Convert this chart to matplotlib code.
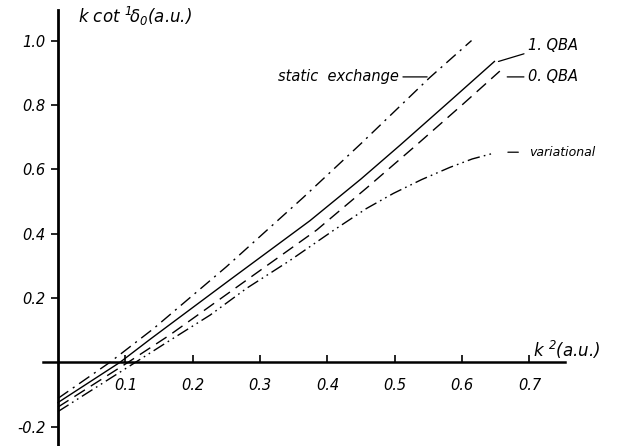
import numpy as np
import matplotlib
matplotlib.use("Agg")
import matplotlib.pyplot as plt

plt.rcParams['font.family'] = ['DejaVu Sans']
plt.rcParams['mathtext.fontset'] = 'custom'
plt.rcParams['mathtext.it'] = 'DejaVu Sans:italic'
plt.rcParams['mathtext.rm'] = 'DejaVu Sans:italic'

# --- data ---
static_x = [0.0, 0.077, 0.142, 0.25, 0.364, 0.45, 0.552, 0.614]
static_y = [-0.112, 0.0, 0.105, 0.297, 0.512, 0.68, 0.885, 1.0]

qba1_x = [0.0, 0.092, 0.137, 0.255, 0.374, 0.45, 0.508, 0.582, 0.648]
qba1_y = [-0.125, 0.0, 0.072, 0.256, 0.44, 0.57, 0.675, 0.812, 0.935]

qba0_x = [0.0, 0.104, 0.166, 0.285, 0.384, 0.46, 0.532, 0.6, 0.656]
qba0_y = [-0.139, 0.0, 0.085, 0.263, 0.411, 0.545, 0.675, 0.8, 0.905]

var_x = [0.0, 0.115, 0.16, 0.226, 0.28, 0.344, 0.409, 0.458, 0.498,
         0.54, 0.582, 0.615, 0.647]
var_y = [-0.153, 0.0, 0.06, 0.147, 0.23, 0.316, 0.41, 0.478, 0.525,
         0.568, 0.606, 0.632, 0.65]

xticks = [0.1, 0.2, 0.3, 0.4, 0.5, 0.6, 0.7]
xticklabels = ["0.1", "0.2", "0.3", "0.4", "0.5", "0.6", "0.7"]
yticks = [-0.2, 0.2, 0.4, 0.6, 0.8, 1.0]
yticklabels = ["-0.2", "0.2", "0.4", "0.6", "0.8", "1.0"]

fig = plt.figure(figsize=(6.17, 4.46), dpi=100)
ax = fig.add_axes([0, 0, 1, 1])
ax.set_xlim(-0.0861, 0.830)
ax.set_ylim(-0.260, 1.126)
ax.patch.set_alpha(0)

lw = 1.0
ax.plot(static_x, static_y, color='black', lw=lw, dashes=[9, 4, 1.5, 4])
ax.plot(qba1_x, qba1_y, color='black', lw=lw)
ax.plot(qba0_x, qba0_y, color='black', lw=lw, dashes=[9, 5])
ax.plot(var_x, var_y, color='black', lw=lw, dashes=[9, 3, 1.2, 3, 1.2, 3])

# axes as crossing spines
for s in ['top', 'right']:
    ax.spines[s].set_visible(False)
ax.spines['left'].set_position(('data', 0))
ax.spines['bottom'].set_position(('data', 0))
ax.spines['left'].set_bounds(-0.26, 1.095)
ax.spines['bottom'].set_bounds(-0.022, 0.753)
ax.spines['left'].set_linewidth(2.0)
ax.spines['bottom'].set_linewidth(1.8)

ax.set_xticks(xticks)
ax.set_xticklabels(xticklabels)
ax.set_yticks(yticks)
ax.set_yticklabels(yticklabels)
ax.tick_params(axis='x', direction='in', length=5, width=1.2, pad=11,
               labelsize=10.5)
ax.tick_params(axis='y', direction='out', length=5, width=1.2, pad=4,
               labelsize=10.5)
for lab in ax.get_xticklabels() + ax.get_yticklabels():
    lab.set_fontstyle('italic')

# axis titles
ax.text(0.03, 1.075, r"$k$ $\mathrm{cot}$ $^{1}\!\delta_{0}$(a.u.)",
        fontsize=12, fontstyle='italic', ha='left', va='center')
ax.text(0.705, 0.040, r"$k$ $^{2}$(a.u.)", fontsize=12, fontstyle='italic',
        ha='left', va='center')

# curve labels with leader lines
def xy_at_y(xs, ys, yv):
    return float(np.interp(yv, ys, xs)), yv

line_kw = dict(arrowstyle='-', color='black', lw=0.9, shrinkA=1, shrinkB=0)

sx, sy = xy_at_y(static_x, static_y, 0.887)
ax.annotate("static  exchange", xy=(sx - 0.005, sy), xytext=(0.506, sy),
            ha='right', va='center', fontsize=10.5, fontstyle='italic',
            arrowprops=line_kw)

ax.annotate("1. QBA", xy=(qba1_x[-1] + 0.006, qba1_y[-1]), xytext=(0.698, 0.986),
            ha='left', va='center', fontsize=10.5, fontstyle='italic',
            arrowprops=line_kw)

ax.annotate("0. QBA", xy=(qba0_x[-1] + 0.011, 0.887), xytext=(0.698, 0.887),
            ha='left', va='center', fontsize=10.5, fontstyle='italic',
            arrowprops=line_kw)

ax.annotate("variational", xy=(var_x[-1] + 0.021, 0.653), xytext=(0.70, 0.653),
            ha='left', va='center', fontsize=9, fontstyle='italic',
            arrowprops=dict(line_kw, shrinkA=6))

fig.savefig("out.png", dpi=100)
